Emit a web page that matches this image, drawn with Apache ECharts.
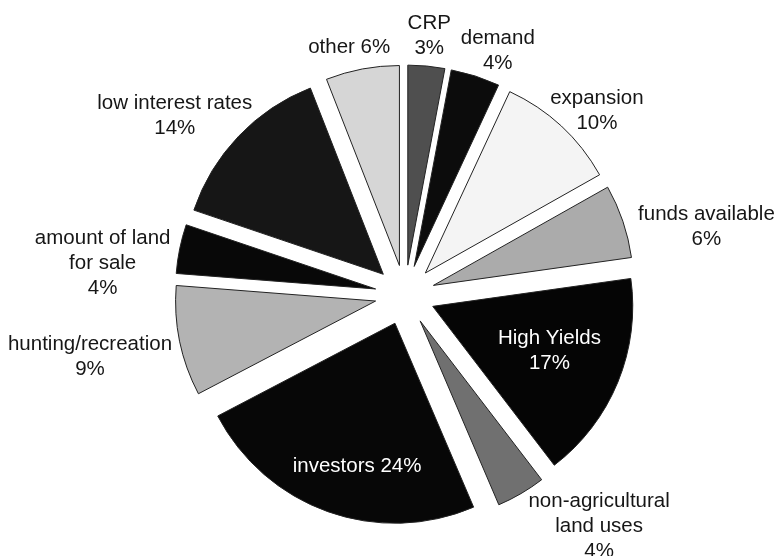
<!DOCTYPE html>
<html>
<head>
<meta charset="utf-8">
<script src="https://cdn.jsdelivr.net/npm/echarts@6/dist/echarts.min.js"></script>
<style>
    html, body { margin: 0; padding: 0; background: #fff; }
    #main { width: 777px; height: 556px; }
</style>
</head>
<body>
<div id="main"></div>
<script>
// slices, clockwise from 12 o'clock
var names = ['CRP', 'demand', 'expansion', 'funds available', 'High Yields',
    'non-agricultural\nland uses', 'investors', 'hunting/recreation',
    'amount of land\nfor sale', 'low interest rates', 'other'];
var values = [3, 4, 10, 6, 17, 4, 24, 9, 4, 14, 6];
var colors = ['#4f4f4f', '#0c0c0c', '#f4f4f4', '#ababab', '#050505',
    '#707070', '#070707', '#b3b3b3', '#080808', '#161616', '#d6d6d6'];
// labels drawn inside the slice (white text)
var insideLabels = ['High Yields', 'investors'];
var oneLine = ['other', 'investors'];
// label placement: turn (deg) from the slice middle, distance from centre
var labelTurn = [0, 3, 3.4, 6, -1, -9.7, -4, 0.5, -5.6, -5.7, -2];
var labelDist = [260, 261, 266, 309, 155, 302, 178, 321, 304, 292, 254];

var cx = 405, cy = 295;
var total = values.reduce(function (a, b) { return a + b; }, 0);
var midAngle = [];
var acc = 0;
values.forEach(function (v) {
    midAngle.push((acc + v / 2) / total * 360);
    acc += v;
});

var chart = echarts.init(document.getElementById('main'));

// exploded slices
var sliceData = names.map(function (n, i) {
    return {
        name: n,
        value: values[i],
        selected: true,
        itemStyle: { color: colors[i] }
    };
});

// same slices again, invisible, only to carry the labels
var labelData = names.map(function (n, i) {
    return {
        name: n,
        value: values[i],
        label: { color: insideLabels.indexOf(n) >= 0 ? '#fff' : '#161616' }
    };
});

var option = {
    animation: false,
    series: [{
        type: 'pie',
        center: [cx, cy],
        radius: [0, 200],
        startAngle: 90,
        clockwise: true,
        selectedMode: 'multiple',
        selectedOffset: 30,
        data: sliceData,
        itemStyle: {
            borderColor: '#222',
            borderWidth: 1
        },
        label: { show: false },
        labelLine: { show: false },
        emphasis: { disabled: true }
    }, {
        type: 'pie',
        silent: true,
        z: 3,
        center: [cx, cy],
        radius: [0, 200],
        startAngle: 90,
        clockwise: true,
        selectedMode: false,
        data: labelData,
        itemStyle: { color: 'rgba(0,0,0,0)', borderWidth: 0 },
        label: {
            show: true,
            position: 'outside',
            overflow: 'none',
            fontFamily: 'Liberation Sans, Arial, sans-serif',
            fontSize: 20.5,
            lineHeight: 25,
            formatter: function (p) {
                var sep = oneLine.indexOf(p.name) >= 0 ? ' ' : '\n';
                return p.name + sep + p.value + '%';
            }
        },
        labelLine: { show: false },
        labelLayout: function (p) {
            var i = p.dataIndex;
            var a = (midAngle[i] + labelTurn[i]) * Math.PI / 180;
            return {
                x: cx + labelDist[i] * Math.sin(a),
                y: cy - labelDist[i] * Math.cos(a),
                align: 'center',
                verticalAlign: 'middle'
            };
        },
        emphasis: { disabled: true }
    }]
};
chart.setOption(option);
</script>
</body>
</html>
